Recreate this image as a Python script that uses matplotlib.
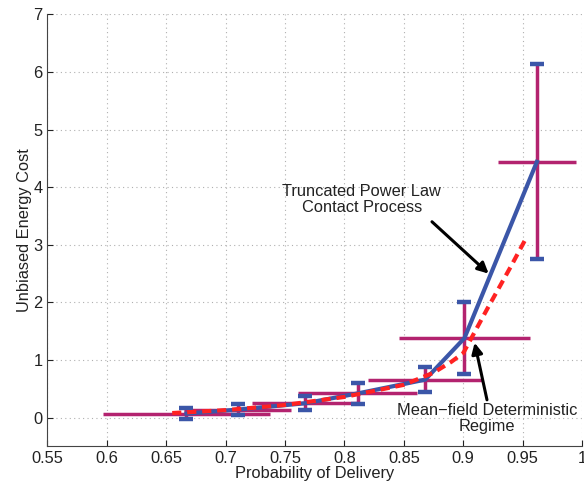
import matplotlib
matplotlib.use("Agg")
import matplotlib.pyplot as plt

plt.rcParams['font.family'] = ['Liberation Sans', 'DejaVu Sans']

# measured points (contact process), with error bars
prob = [0.667, 0.71, 0.767, 0.811, 0.868, 0.901, 0.962]
cost = [0.07, 0.14, 0.25, 0.42, 0.66, 1.38, 4.44]
cost_err = [0.10, 0.09, 0.12, 0.19, 0.22, 0.63, 1.69]
prob_err = [0.07, 0.045, 0.045, 0.05, 0.048, 0.055, 0.033]

# mean-field curve
mf_prob = [0.655, 0.70, 0.75, 0.80, 0.85, 0.875, 0.89, 0.90, 0.91, 0.92, 0.94, 0.952]
mf_cost = [0.08, 0.13, 0.22, 0.36, 0.57, 0.78, 0.97, 1.12, 1.50, 1.88, 2.62, 3.08]

x_ticks = [0.55, 0.6, 0.65, 0.7, 0.75, 0.8, 0.85, 0.9, 0.95, 1.0]
x_tick_labels = ['0.55', '0.6', '0.65', '0.7', '0.75', '0.8', '0.85', '0.9', '0.95', '1']
y_ticks = [0, 1, 2, 3, 4, 5, 6, 7]

blue = '#3b56a8'
purple = '#b3236f'
red = '#ff2222'
txt = '#222222'
fs = 11.8

fig = plt.figure(figsize=(5.84, 4.87), dpi=100)
ax = fig.add_axes([0.0813, 0.0832, 0.9153, 0.8874])

# horizontal error bars
ax.errorbar(prob, cost, xerr=prob_err, fmt='none', ecolor=purple, elinewidth=2.5,
            capsize=0, zorder=2)
# vertical error bars with blue caps
eb = ax.errorbar(prob, cost, yerr=cost_err, fmt='none', ecolor=purple, elinewidth=2.5,
                 capsize=4.7, capthick=3.2, zorder=2)
for cap in eb[1]:
    cap.set_markeredgecolor(blue)
    cap.set_markerfacecolor(blue)

ax.plot(prob, cost, color=blue, lw=3, zorder=3)
ax.plot(mf_prob, mf_cost, color=red, lw=3, dashes=(2.2, 1.4), zorder=4)

arrow = dict(arrowstyle='-|>', color='black', lw=2.2, mutation_scale=16, shrinkA=0, shrinkB=0)

ax.text(0.8147, 3.78, 'Truncated Power Law\nContact Process', ha='center', va='center',
        fontsize=fs, color=txt, linespacing=1.1)
ax.annotate('', xy=(0.9214, 2.50), xytext=(0.8737, 3.40), arrowprops=arrow)

ax.text(0.92, -0.02, 'Mean\u2212field Deterministic\nRegime', ha='center', va='center',
        fontsize=fs, color=txt, linespacing=1.1)
ax.annotate('', xy=(0.9096, 1.30), xytext=(0.92, 0.31), arrowprops=arrow)

ax.set_xlim(0.55, 1.0)
ax.set_ylim(-0.5, 7)
ax.set_xticks(x_ticks)
ax.set_xticklabels(x_tick_labels)
ax.set_yticks(y_ticks)
ax.tick_params(direction='in', length=4, labelsize=fs, colors=txt)
ax.grid(True, linestyle=(0, (1, 3)), color='#b0b0b0', lw=0.8)
ax.spines['top'].set_visible(False)
ax.spines['right'].set_visible(False)
ax.spines['left'].set_color('#444444')
ax.spines['bottom'].set_color('#444444')

ax.set_xlabel('Probability of Delivery', fontsize=fs, color=txt, labelpad=0)
ax.set_ylabel('Unbiased Energy Cost', fontsize=fs, color=txt, labelpad=1)

fig.savefig('out.png', dpi=100)
